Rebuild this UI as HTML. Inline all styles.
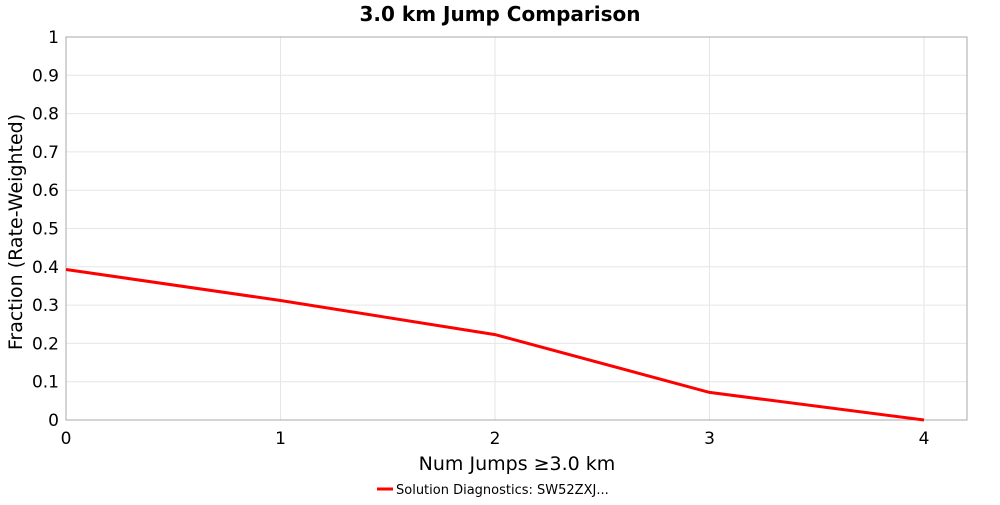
<!DOCTYPE html>
<html><head><meta charset="utf-8"><style>
body{margin:0;background:#fff;}
text{font-family:"DejaVu Sans","Liberation Sans",sans-serif;}
</style></head><body>
<svg id="chart" width="1000" height="500">
<text x="500" y="21" text-anchor="middle" font-size="20" font-weight="bold">3.0 km Jump Comparison</text>
<g id="grid"></g>
<rect x="66" y="37" width="901" height="383" fill="none" stroke="#aaa"/>
<g id="ticks"></g>
<g id="series"></g>
<text x="517" y="470" text-anchor="middle" font-size="19">Num Jumps ≥3.0 km</text>
<text transform="translate(22,232) rotate(-90)" text-anchor="middle" font-size="19">Fraction (Rate-Weighted)</text>
<g>
<line x1="377" y1="489" x2="393" y2="489" stroke="red" stroke-width="3"/>
<text x="396" y="494" font-size="13">Solution Diagnostics: SW52ZXJ...</text>
</g>
</svg>
<script>
const xValues=[0,1,2,3,4];
const yValues=[0.393,0.312,0.223,0.072,0.0];
const xTicks=[0,1,2,3,4];
const yTicks=[0,0.1,0.2,0.3,0.4,0.5,0.6,0.7,0.8,0.9,1];
const NS="http://www.w3.org/2000/svg";
const X=v=>66+v*214.5, Y=v=>420-v*383;
const grid=document.getElementById('grid'),ticks=document.getElementById('ticks'),series=document.getElementById('series');
function mk(t,a,p){const e=document.createElementNS(NS,t);for(const k in a)e.setAttribute(k,a[k]);p.appendChild(e);return e;}
yTicks.forEach(v=>{
 const g=mk('line',{x1:66,x2:967,y1:Y(v),y2:Y(v),stroke:'#e6e6e6'},grid);
 
 
 const t=mk('text',{x:59,y:Y(v)+6,'text-anchor':'end','font-size':17},ticks);
 t.textContent=String(v);
 
 
});
xTicks.forEach(v=>{
 const g=mk('line',{x1:X(v),x2:X(v),y1:37,y2:420,stroke:'#e6e6e6'},grid);
 
 
 const t=mk('text',{x:X(v),y:444,'text-anchor':'middle','font-size':17},ticks);
 t.textContent=String(v);
 
 
});
const pl=mk('polyline',{points:xValues.map((x,i)=>X(x)+','+Y(yValues[i])).join(' '),fill:'none',stroke:'red','stroke-width':3},series);


</script>
</body></html>
